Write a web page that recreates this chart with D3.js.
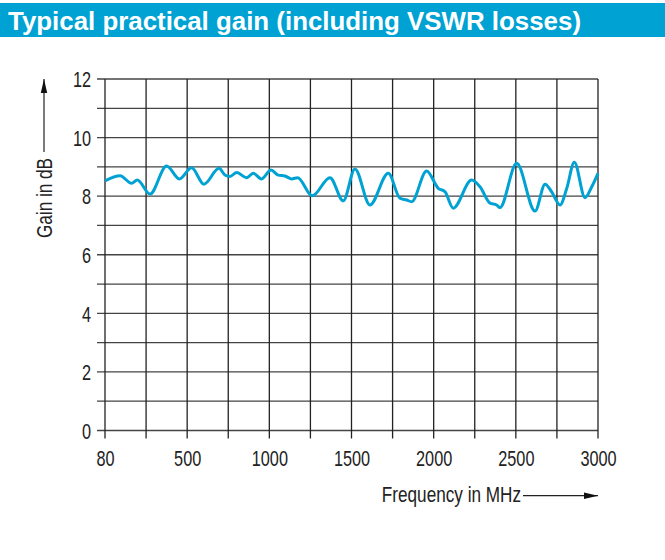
<!DOCTYPE html>
<html>
<head>
<meta charset="utf-8">
<script src="https://cdn.jsdelivr.net/npm/d3@7"></script>
<style>
  body { margin: 0; background: #fff; }
  text { font-family: "Liberation Sans", Arial, sans-serif; }
</style>
</head>
<body>
<svg width="665" height="560"></svg>
<script>
// frequency (MHz) and gain (dB)
const freqs = [80, 157, 216, 245, 310, 395, 460, 527, 602, 694, 730, 760, 801, 862, 902, 953,
  1010, 1054, 1095, 1136, 1172, 1261, 1369, 1450, 1521, 1612, 1724, 1795, 1836, 1866, 1957,
  2028, 2069, 2119, 2231, 2282, 2343, 2383, 2403, 2505, 2617, 2678, 2718, 2769, 2810, 2856,
  2921, 2962, 3000];
const gains = [8.52, 8.70, 8.44, 8.55, 8.07, 9.03, 8.59, 8.97, 8.41, 8.95, 8.72, 8.67, 8.81,
  8.63, 8.78, 8.59, 8.89, 8.72, 8.69, 8.59, 8.63, 8.01, 8.63, 7.84, 8.93, 7.70, 8.78, 7.93,
  7.87, 7.81, 8.86, 8.27, 8.15, 7.59, 8.55, 8.32, 7.76, 7.70, 7.61, 9.12, 7.49, 8.41, 8.15,
  7.70, 8.27, 9.16, 7.95, 8.32, 8.78];

const xTickLabels = [80, 500, 1000, 1500, 2000, 2500, 3000];
const yTickLabels = [0, 2, 4, 6, 8, 10, 12];

const svg = d3.select("svg");
const width = +svg.attr("width");

const margin = { top: 79, left: 105, right: 67 };
const innerWidth = width - margin.left - margin.right;
const innerHeight = 430.5 - margin.top;
// stand-in for the condensed face of the original
const squeeze = 'scale(0.74,1)';
const squeezeTitle = 'scale(0.78,1)';

// header bar
svg.append('rect')
    .attr('x', 0).attr('y', 3)
    .attr('width', width).attr('height', 34)
    .attr('fill', '#00a2d3');

svg.append('text')
    .attr('x', 8).attr('y', 29.5)
    .attr('fill', '#fff')
    .attr('font-size', 26)
    .attr('font-weight', 'bold')
    .attr('textLength', 573)
    .attr('lengthAdjust', 'spacingAndGlyphs')
    .text('Typical practical gain (including VSWR losses)');

const g = svg.append('g')
    .attr('transform', `translate(${margin.left},${margin.top})`);

// axis is not linear in MHz: each labelled step gets the same width
const xScale = d3.scaleLinear()
    .domain(xTickLabels)
    .range(xTickLabels.map((d, i) => i * innerWidth / (xTickLabels.length - 1)));

const yScale = d3.scaleLinear()
    .domain([0, 12])
    .range([innerHeight, 0]);

// grid positions: every labelled tick and the half-way points
const xGrid = [];
xTickLabels.forEach((d, i) => {
    xGrid.push(d);
    if (i < xTickLabels.length - 1) xGrid.push(xScale.invert((xScale(d) + xScale(xTickLabels[i + 1])) / 2));
});

g.selectAll('.hgrid')
    .data(d3.range(0, 13))
    .enter()
    .append('line')
    .attr('class', 'hgrid')
    .attr('x1', -8).attr('x2', innerWidth)
    .attr('y1', d => yScale(d)).attr('y2', d => yScale(d))
    .attr('stroke', '#444')
    .attr('stroke-width', 1.3);

g.selectAll('.vgrid')
    .data(xGrid)
    .enter()
    .append('line')
    .attr('class', 'vgrid')
    .attr('x1', d => xScale(d)).attr('x2', d => xScale(d))
    .attr('y1', 0).attr('y2', innerHeight + 8)
    .attr('stroke', '#222')
    .attr('stroke-width', 1.3);

const xAxis = d3.axisBottom(xScale).tickValues(xTickLabels).tickFormat(d3.format('d')).tickSize(0);
const yAxis = d3.axisLeft(yScale).tickValues(yTickLabels).tickFormat(d3.format('d')).tickSize(0);

g.append('g')
    .attr('transform', `translate(0,${innerHeight})`)
    .call(xAxis)
    .call(a => a.select('.domain').remove())
    .selectAll('text')
    .attr('y', null).attr('dy', null)
    .attr('transform', `translate(0,35) ${squeeze}`)
    .attr('font-size', 22)
    .attr('fill', '#222');

g.append('g')
    .call(yAxis)
    .call(a => a.select('.domain').remove())
    .selectAll('text')
    .attr('x', null).attr('dy', null)
    .attr('transform', `translate(-14,7.8) ${squeeze}`)
    .attr('font-size', 22)
    .attr('fill', '#222');

const line = d3.line()
    .x((d, i) => xScale(freqs[i]))
    .y(d => yScale(d))
    .curve(d3.curveMonotoneX);

g.append('path')
    .datum(gains)
    .attr('d', line)
    .attr('fill', 'none')
    .attr('stroke', '#00a2d3')
    .attr('stroke-width', 3);

// arrow heads
svg.append('defs').append('marker')
    .attr('id', 'arrow')
    .attr('viewBox', '0 0 14 8')
    .attr('refX', 14).attr('refY', 4)
    .attr('markerWidth', 14).attr('markerHeight', 8)
    .attr('markerUnits', 'userSpaceOnUse')
    .attr('orient', 'auto')
    .append('path')
    .attr('d', 'M0,0.8 L14,4 L0,7.2 Z')
    .attr('fill', '#111');

// y axis title with arrow
svg.append('text')
    .attr('transform', `translate(52,198) rotate(-90) ${squeezeTitle}`)
    .attr('text-anchor', 'middle')
    .attr('font-size', 22)
    .attr('fill', '#222')
    .text('Gain in dB');

svg.append('line')
    .attr('x1', 44).attr('x2', 44)
    .attr('y1', 152).attr('y2', 79)
    .attr('stroke', '#222')
    .attr('stroke-width', 1.2)
    .attr('marker-end', 'url(#arrow)');

// x axis title with arrow
svg.append('text')
    .attr('transform', `translate(521,501.5) ${squeezeTitle}`)
    .attr('text-anchor', 'end')
    .attr('font-size', 22)
    .attr('fill', '#222')
    .text('Frequency in MHz');

svg.append('line')
    .attr('x1', 523).attr('x2', 598)
    .attr('y1', 495.7).attr('y2', 495.7)
    .attr('stroke', '#222')
    .attr('stroke-width', 1.2)
    .attr('marker-end', 'url(#arrow)');
</script>
</body>
</html>
